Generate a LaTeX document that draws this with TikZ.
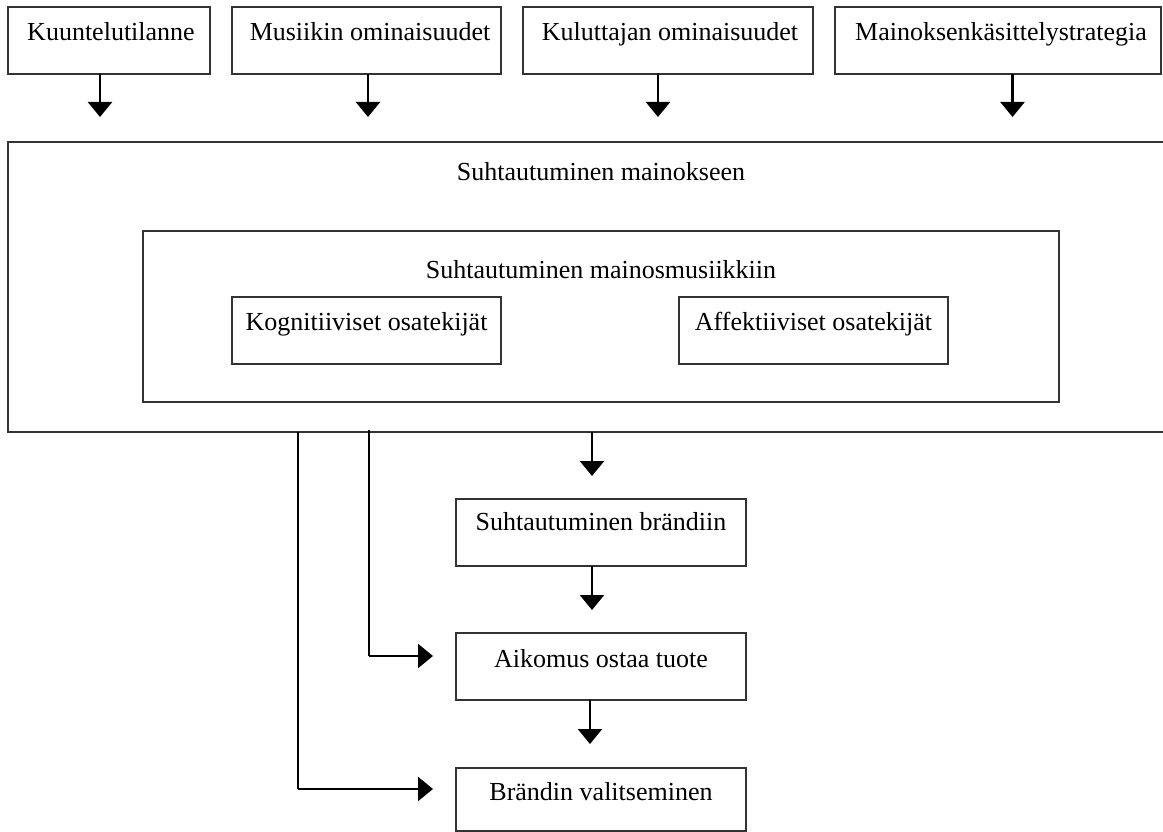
\documentclass[tikz,border=0pt]{standalone}
\usepackage{fontspec}
\setmainfont{Liberation Serif}
\usetikzlibrary{arrows.meta}
\begin{document}
\begin{tikzpicture}[x=1pt,y=-1pt,
  box/.style={draw=black!80,line width=1.4pt,inner sep=0pt,outer sep=0pt},
  lbl/.style={anchor=base,inner sep=0pt,font=\fontsize{26}{30}\selectfont},
  arr/.style={line width=2.4pt,-{Triangle[width=24pt,length=15pt]}},
  ln/.style={line width=2.4pt}]
\useasboundingbox (0,0) rectangle (1163,832);
% top boxes
\node[box,minimum width=202pt,minimum height=67pt] (b1) at (109,40.5) {};
\node[box,minimum width=269pt,minimum height=67pt] (b2) at (366.5,40.5) {};
\node[box,minimum width=290pt,minimum height=67pt] (b3) at (668,40.5) {};
\node[box,minimum width=326pt,minimum height=67pt] (b4) at (998,40.5) {};
\node[lbl] (t1) at (111,41) {Kuuntelutilanne};
\node[lbl] (t2) at (370,41) {Musiikin ominaisuudet};
\node[lbl] (t3) at (670,41) {Kuluttajan ominaisuudet};
\node[lbl] (t4) at (1001,41) {Mainoksenkäsittelystrategia};
% big box (open at right edge)
\node[inner sep=0pt,outer sep=0pt,minimum width=1155pt,minimum height=290pt] (big) at (585.5,287) {};
\draw[draw=black!80,line width=1.4pt] (big.north east) -- (big.north west) -- (big.south west) -- (big.south east);
\node[lbl] (tbig) at (601,181) {Suhtautuminen mainokseen};
% inner box
\node[box,minimum width=916pt,minimum height=171pt] (inner) at (601,316.5) {};
\node[lbl] (tinner) at (601,278) {Suhtautuminen mainosmusiikkiin};
\node[box,minimum width=269pt,minimum height=67pt] (kog) at (366.5,330.5) {};
\node[lbl] (tkog) at (366.5,330) {Kognitiiviset osatekijät};
\node[box,minimum width=269pt,minimum height=67pt] (aff) at (813.5,330.5) {};
\node[lbl] (taff) at (813.5,330) {Affektiiviset osatekijät};
% lower boxes
\node[box,minimum width=290pt,minimum height=67pt] (bra) at (601,532.5) {};
\node[lbl] (tbra) at (601,530) {Suhtautuminen brändiin};
\node[box,minimum width=290pt,minimum height=67pt] (aik) at (601,666.5) {};
\node[lbl] (taik) at (601,667) {Aikomus ostaa tuote};
\node[box,minimum width=290pt,minimum height=63pt] (val) at (601,799.5) {};
\node[lbl] (tval) at (601,800) {Brändin valitseminen};
% top arrows
\draw[arr,shorten >=25pt] ([xshift=-9pt]b1.south) -- ([xshift=-9pt]b1.south |- big.north);
\draw[arr,shorten >=25pt] ([xshift=1.5pt]b2.south) -- ([xshift=1.5pt]b2.south |- big.north);
\draw[arr,shorten >=25pt] ([xshift=-10pt]b3.south) -- ([xshift=-10pt]b3.south |- big.north);
\draw[arr,shorten >=25pt] ([xshift=14.5pt]b4.south) -- ([xshift=14.5pt]b4.south |- big.north);
% vertical chain
\coordinate (s1) at (592,432);
\draw[arr,shorten >=23pt] (s1) -- (s1 |- bra.north);
\draw[arr,shorten >=23pt] ([xshift=-9pt]bra.south) -- ([xshift=-9pt]bra.south |- aik.north);
\draw[arr,shorten >=24pt] ([xshift=-11pt]aik.south) -- ([xshift=-11pt]aik.south |- val.north);
% elbow connectors
\coordinate (c1) at (369,430);
\coordinate (c2) at (298,432);
\coordinate (aw) at ([yshift=10.5pt]aik.west);
\coordinate (vw) at ([yshift=10.5pt]val.west);
\draw[ln] (c1) -- (c1 |- aw);
\draw[arr,shorten >=23pt] (c1 |- aw) -- (aw);
\draw[ln] (c2) -- (c2 |- vw);
\draw[arr,shorten >=23pt] (c2 |- vw) -- (vw);
\end{tikzpicture}
\end{document}
